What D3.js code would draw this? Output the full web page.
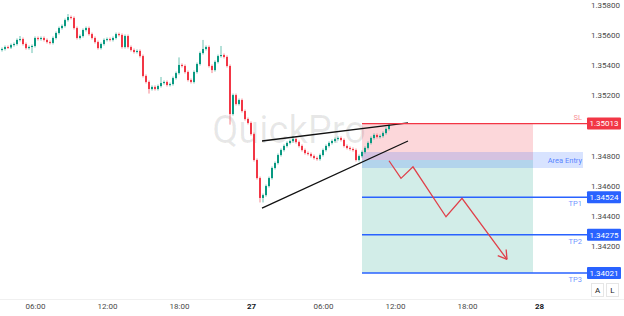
<!DOCTYPE html>
<html>
<head>
<meta charset="utf-8">
<script src="https://cdn.jsdelivr.net/npm/d3@7"></script>
<style>
body { margin: 0; background: #fff; }
svg { display: block; font-family: Roboto, "Noto Sans", sans-serif; }
</style>
</head>
<body>
<svg width="624" height="316"></svg>
<script>
// 15 min candles, first one at 26th 03:15, open of the first = 1.35501
var firstBar = "2025-01-26 03:15";
var firstOpen = 1.35501;
var closes = [
  1.35508,1.35521,1.35518,1.35534,1.35541,1.35568,1.35574,1.35541,1.35514,1.35521,
  1.35528,1.35581,1.35574,1.35581,1.35568,1.35554,1.35548,1.35581,1.35614,1.35647,
  1.35661,1.35700,1.35720,1.35714,1.35647,1.35581,1.35594,1.35634,1.35647,1.35607,
  1.35581,1.35554,1.35514,1.35541,1.35568,1.35574,1.35568,1.35581,1.35607,1.35601,
  1.35521,1.35594,1.35521,1.35501,1.35488,1.35495,1.35461,1.35329,1.35289,1.35242,
  1.35256,1.35242,1.35262,1.35282,1.35289,1.35269,1.35275,1.35315,1.35348,1.35402,
  1.35395,1.35355,1.35302,1.35289,1.35355,1.35408,1.35481,1.35508,1.35521,1.35395,
  1.35368,1.35422,1.35461,1.35468,1.35455,1.35395,1.35076,1.35202,1.35143,1.35169,
  1.35096,1.35043,1.35017,1.34943,1.34771,1.34651,1.34519,1.34538,1.34598,1.34651,
  1.34718,1.34751,1.34804,1.34837,1.34864,1.34884,1.34897,1.34910,1.34890,1.34864,
  1.34837,1.34817,1.34811,1.34797,1.34784,1.34777,1.34804,1.34837,1.34864,1.34884,
  1.34897,1.34910,1.34917,1.34904,1.34864,1.34851,1.34844,1.34837,1.34771,1.34797,
  1.34824,1.34851,1.34884,1.34917,1.34937,1.34924,1.34930,1.34950,1.34977,1.35003
];
// wicks in pips above / below the body
var wickUp = [
  1,1,1,1,1,1,2,1,1,1, 1,1,1,1,1,1,1,1,1,1, 1,1,2,1,1,1,1,1,1,1,
  1,1,1,1,1,1,1,1,1,1, 1,1,1,1,1,1,1,1,1,1, 1,1,1,4,1,1,1,1,1,5,
  1,1,1,1,1,1,1,6,1,1, 1,1,1,6,1,1,1,1,1,1, 1,1,1,1,1,1,1,1,1,1,
  1,1,1,1,1,1,1,2,1,1, 1,1,1,1,1,1,1,1,1,1, 1,1,1,1,1,1,1,1,1,1,
  1,1,1,1,1,1,1,1,1,1
];
var wickDn = [
  1,1,1,1,1,1,1,1,1,1, 4,1,1,1,1,1,1,1,1,1, 1,1,1,1,1,1,1,1,1,1,
  1,1,1,1,1,1,1,1,1,1, 1,1,1,1,1,1,1,1,1,3, 1,1,1,1,1,1,1,1,1,1,
  1,1,1,1,1,1,1,1,1,1, 2,1,1,1,1,1,7,1,1,1, 1,1,1,1,1,1,3,3,1,1,
  1,1,1,1,1,1,1,1,1,1, 1,1,1,1,1,1,1,1,1,1, 1,1,1,1,1,1,1,1,1,1,
  1,1,1,1,1,1,1,1,1,1
];

var priceTicks = [1.358, 1.356, 1.354, 1.352, 1.348, 1.346, 1.344, 1.342];

// short position
var slPrice = 1.35013;
var entryPrice = 1.34771;
var entryZone = [1.34718, 1.34824];
var tpPrices = [1.34524, 1.34275, 1.34021];
var tpNames = ["TP1", "TP2", "TP3"];
var boxTimes = ["2025-01-27 09:15", "2025-01-27 23:30"];
var zoneEnd = "2025-01-28 03:40";

// rising wedge
var wedgeUpper = [["2025-01-27 00:55", 1.34897], ["2025-01-27 13:05", 1.35017]];
var wedgeLower = [["2025-01-27 00:55", 1.34452], ["2025-01-27 13:05", 1.34897]];

// projected path
var pathTimes = ["2025-01-27 11:30", "2025-01-27 12:30", "2025-01-27 13:30", "2025-01-27 16:15", "2025-01-27 17:35", "2025-01-27 21:20"];
var pathPrices = [1.34766, 1.34649, 1.34726, 1.34394, 1.34516, 1.34111];

var parse = d3.utcParse("%Y-%m-%d %H:%M");
var pip = 0.0001;
var green = "#089981", red = "#f23645", blue = "#2962ff";

var svg = d3.select("svg");

var x = d3.scaleUtc()
  .domain([parse("2025-01-26 00:00"), parse("2025-01-28 00:00")])
  .range([-37, 539]);
var y = d3.scaleLinear()
  .domain([1.358, 1.342])
  .range([5, 246]);

// watermark
svg.append("text")
  .attr("x", 289).attr("y", 143)
  .attr("text-anchor", "middle")
  .attr("font-size", 38)
  .attr("fill", "#000").attr("fill-opacity", 0.09)
  .text("QuickPro");

// position box
var bx0 = x(parse(boxTimes[0])), bx1 = x(parse(boxTimes[1]));
svg.append("rect")
  .attr("x", bx0).attr("width", bx1 - bx0)
  .attr("y", y(slPrice)).attr("height", y(entryPrice) - y(slPrice))
  .attr("fill", red).attr("fill-opacity", 0.2);
svg.append("rect")
  .attr("x", bx0).attr("width", bx1 - bx0)
  .attr("y", y(entryPrice)).attr("height", y(tpPrices[2]) - y(entryPrice))
  .attr("fill", green).attr("fill-opacity", 0.18);
var zx1 = x(parse(zoneEnd));
svg.append("rect")
  .attr("x", bx0).attr("width", zx1 - bx0)
  .attr("y", y(entryZone[1])).attr("height", y(entryZone[0]) - y(entryZone[1]))
  .attr("fill", blue).attr("fill-opacity", 0.18);

// candles
var t0 = parse(firstBar);
var bars = closes.map(function(c, i) {
  var o = i ? closes[i - 1] : firstOpen;
  return {
    t: d3.utcMinute.offset(t0, 15 * i),
    o: o, c: c,
    h: Math.max(o, c) + wickUp[i] * pip,
    l: Math.min(o, c) - wickDn[i] * pip
  };
});

var candle = svg.append("g").selectAll("g")
  .data(bars)
  .enter().append("g");

candle.append("line")
  .attr("x1", function(d) { return x(d.t); })
  .attr("x2", function(d) { return x(d.t); })
  .attr("y1", function(d) { return y(d.h); })
  .attr("y2", function(d) { return y(d.l); })
  .attr("stroke", function(d) { return d.c >= d.o ? green : red; })
  .attr("stroke-opacity", 0.6);

candle.append("rect")
  .attr("x", function(d) { return x(d.t) - 1; })
  .attr("width", 2)
  .attr("y", function(d) { return y(Math.max(d.o, d.c)); })
  .attr("height", function(d) { return Math.max(1, Math.abs(y(d.o) - y(d.c))); })
  .attr("fill", function(d) { return d.c >= d.o ? green : red; });

// wedge lines
[wedgeUpper, wedgeLower].forEach(function(w) {
  svg.append("line")
    .attr("x1", x(parse(w[0][0]))).attr("y1", y(w[0][1]))
    .attr("x2", x(parse(w[1][0]))).attr("y2", y(w[1][1]))
    .attr("stroke", "#111").attr("stroke-width", 1.3);
});

// SL / TP lines and labels
var labelX = 587;
svg.append("line")
  .attr("x1", bx0).attr("x2", labelX)
  .attr("y1", y(slPrice)).attr("y2", y(slPrice))
  .attr("stroke", red).attr("stroke-width", 1.2);
svg.append("text")
  .attr("x", 582).attr("y", y(slPrice) - 3.5)
  .attr("text-anchor", "end").attr("font-size", 7.5)
  .attr("fill", red).attr("fill-opacity", 0.6)
  .text("SL");

tpPrices.forEach(function(p, i) {
  svg.append("line")
    .attr("x1", bx0).attr("x2", labelX)
    .attr("y1", y(p)).attr("y2", y(p))
    .attr("stroke", blue).attr("stroke-width", 1.5);
  svg.append("text")
    .attr("x", 582).attr("y", y(p) + 9)
    .attr("text-anchor", "end").attr("font-size", 7.5)
    .attr("fill", blue).attr("fill-opacity", 0.7)
    .text(tpNames[i]);
});

svg.append("text")
  .attr("x", 582).attr("y", y((entryZone[0] + entryZone[1]) / 2))
  .attr("dy", "0.35em")
  .attr("text-anchor", "end").attr("font-size", 7.5)
  .attr("fill", blue).attr("fill-opacity", 0.75)
  .text("Area Entry");

// projected zigzag
var pts = pathTimes.map(function(t, i) { return [x(parse(t)), y(pathPrices[i])]; });
svg.append("path")
  .attr("d", d3.line()(pts))
  .attr("fill", "none").attr("stroke", "#e0404a").attr("stroke-width", 1.3);
var a = pts[pts.length - 2], b = pts[pts.length - 1];
var ang = Math.atan2(b[1] - a[1], b[0] - a[0]);
[-0.55, 0.55].forEach(function(s) {
  svg.append("line")
    .attr("x1", b[0]).attr("y1", b[1])
    .attr("x2", b[0] - 10 * Math.cos(ang + s)).attr("y2", b[1] - 10 * Math.sin(ang + s))
    .attr("stroke", "#e0404a").attr("stroke-width", 1.3);
});

// price axis
var yAxis = svg.append("g")
  .attr("transform", "translate(591,0)")
  .call(d3.axisRight(y).tickValues(priceTicks).tickSize(0).tickPadding(0).tickFormat(d3.format(".5f")));
yAxis.select(".domain").remove();
yAxis.selectAll("text").attr("font-size", 8).attr("fill", "#4a4a4a").attr("font-family", "Roboto, sans-serif");

// price labels on axis
var tags = [{ p: slPrice, c: red }].concat(tpPrices.map(function(p) { return { p: p, c: blue }; }));
tags.forEach(function(d) {
  svg.append("rect")
    .attr("x", labelX).attr("y", y(d.p) - 6)
    .attr("width", 34).attr("height", 12)
    .attr("rx", 1).attr("fill", d.c);
  svg.append("text")
    .attr("x", labelX + 17).attr("y", y(d.p))
    .attr("dy", "0.35em").attr("text-anchor", "middle")
    .attr("font-size", 8).attr("fill", "#fff")
    .text(d3.format(".5f")(d.p));
});

// time axis
svg.append("line")
  .attr("x1", 0).attr("x2", 624).attr("y1", 299.5).attr("y2", 299.5)
  .attr("stroke", "#f0f0f0");
var timeTicks = d3.utcHour.every(6).range(parse("2025-01-26 06:00"), parse("2025-01-28 00:01"));
var xAxis = svg.append("g")
  .attr("transform", "translate(0,303)")
  .call(d3.axisBottom(x).tickValues(timeTicks).tickSize(0).tickPadding(0)
    .tickFormat(function(d) { return d.getUTCHours() ? d3.utcFormat("%H:%M")(d) : d3.utcFormat("%-d")(d); }));
xAxis.select(".domain").remove();
xAxis.selectAll("text")
  .attr("font-size", 8).attr("font-family", "Roboto, sans-serif")
  .attr("fill", function(d) { return d.getUTCHours() ? "#4a4a4a" : "#131722"; })
  .attr("font-weight", function(d) { return d.getUTCHours() ? null : "bold"; });

// A / L buttons
["A", "L"].forEach(function(s, i) {
  var bxp = 591 + i * 15;
  svg.append("rect")
    .attr("x", bxp + 0.5).attr("y", 283.5).attr("width", 12).attr("height", 13)
    .attr("fill", "#fff").attr("stroke", "#e6e6e6");
  svg.append("text")
    .attr("x", bxp + 6.5).attr("y", 290).attr("dy", "0.35em")
    .attr("text-anchor", "middle").attr("font-size", 8).attr("fill", "#222")
    .text(s);
});
</script>
</body>
</html>
